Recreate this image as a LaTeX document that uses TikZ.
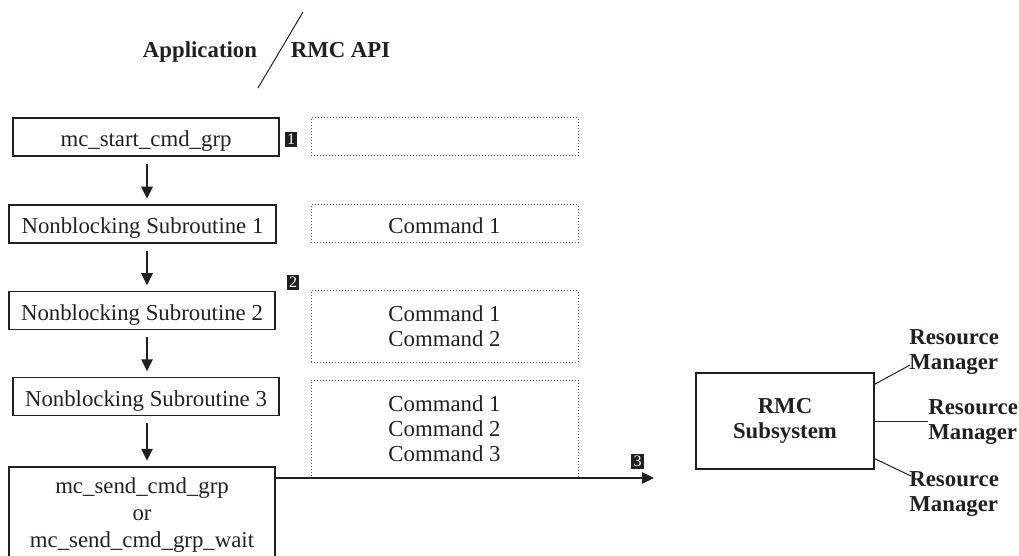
\documentclass[tikz,border=0pt]{standalone}
\usepackage{fontspec}
\setmainfont{Liberation Serif}
\usetikzlibrary{arrows.meta,calc}
\definecolor{ink}{RGB}{35,31,32}
\definecolor{dotgray}{RGB}{80,80,80}
\begin{document}
\begin{tikzpicture}[x=0.5pt,y=-0.5pt,
  every node/.style={text=ink},
  txt/.style={font=\fontsize{11.4}{12.5}\selectfont},
  btxt/.style={font=\bfseries\fontsize{11.4}{12.5}\selectfont},
  box/.style={txt, draw=ink, line width=0.65pt, minimum width=133pt,
    minimum height=19pt, inner sep=0pt, align=center},
  onebox/.style={box, text height=14.5pt, text depth=4.5pt},
  cmdbox/.style={txt, draw=dotgray, line width=0.5pt,
    dash pattern=on 0.5pt off 1pt, minimum width=133.5pt, inner sep=0pt,
    align=center},
  tag/.style={fill=ink, text=white, minimum width=6.3pt, minimum height=7.8pt,
    inner sep=0pt, font=\fontsize{8}{8}\selectfont},
  flow/.style={draw=ink, line width=0.6pt,
    -{Triangle[length=6pt,width=5.8pt]}},
  rmlabel/.style={btxt, align=left, inner sep=0pt, anchor=west},
  thin/.style={draw=ink, line width=0.5pt},
]
\useasboundingbox (0,0) rectangle (1019,556);

% header: caller side and library side
\node[btxt, anchor=base] (app) at (200,58) {Application};
\node[btxt, anchor=base] (api) at (340.5,58) {RMC API};
\coordinate (slashtop) at (303,12);
\coordinate (slashbot) at (258,88);
\draw[thin] (slashtop) -- (slashbot);

% application calls
\node[onebox] (b0) at (146,137) {mc\_start\_cmd\_grp};
\node[onebox, minimum width=133.5pt] (b1) at (142.5,224) {Nonblocking Subroutine 1};
\node[onebox, text height=14.25pt, text depth=4.25pt] (b2) at (142,310.5) {Nonblocking Subroutine 2};
\node[onebox, text height=14.25pt, text depth=4.25pt] (b3) at (146,396.5) {Nonblocking Subroutine 3};
\node[box, minimum height=48pt, font=\fontsize{11.4}{13.3}\selectfont]
  (b4) at (142,515) {mc\_send\_cmd\_grp\\or\\mc\_send\_cmd\_grp\_wait};

% command group as built up by the API
\node[cmdbox, minimum height=19pt] (d0) at (444.5,137) {};
\node[cmdbox, text height=14.5pt, text depth=4.5pt] (d1) at (444.5,224) {Command 1};
\node[cmdbox, minimum height=35.5pt] (d2) at (444.5,326.5) {Command 1\\Command 2};
\node[cmdbox, minimum height=48.5pt] (d3) at (444.5,428.5) {Command 1\\Command 2\\Command 3};

% step markers
\node[tag] (t1) at (291,139.5) {1};
\node[tag] (t2) at (293,282.5) {2};
\node[tag] (t3) at (637.5,461.5) {3};

% call sequence
\coordinate (spine) at (147,0);
\foreach \a/\b in {b0/b1,b1/b2,b2/b3,b3/b4}
  \draw[flow, shorten <=3.5pt, shorten >=2.8pt] (spine |- \a.south) -- (spine |- \b.north);

% group sent to the subsystem
\coordinate (tip) at (654,478);
\draw[flow] (b4.east |- tip) -- (tip);

% subsystem and its resource managers
\node[btxt, draw=ink, line width=0.65pt, minimum width=89pt, minimum height=48pt,
  align=center, inner sep=0pt] (rmc) at (785,421) {RMC\\Subsystem};
\node[rmlabel] (r1) at (909,352) {Resource\\Manager};
\node[rmlabel] (r2) at (928,422) {Resource\\Manager};
\node[rmlabel] (r3) at (909,494) {Resource\\Manager};
\draw[thin] ($(rmc.north east)+(0,12)$) -- ($(r1.west)+(1,13)$);
\draw[thin] (rmc.east) -- (rmc.east -| r2.west);
\draw[thin] ($(rmc.south east)+(0,-11)$) -- ($(r3.west)+(2,-18)$);
\end{tikzpicture}
\end{document}
